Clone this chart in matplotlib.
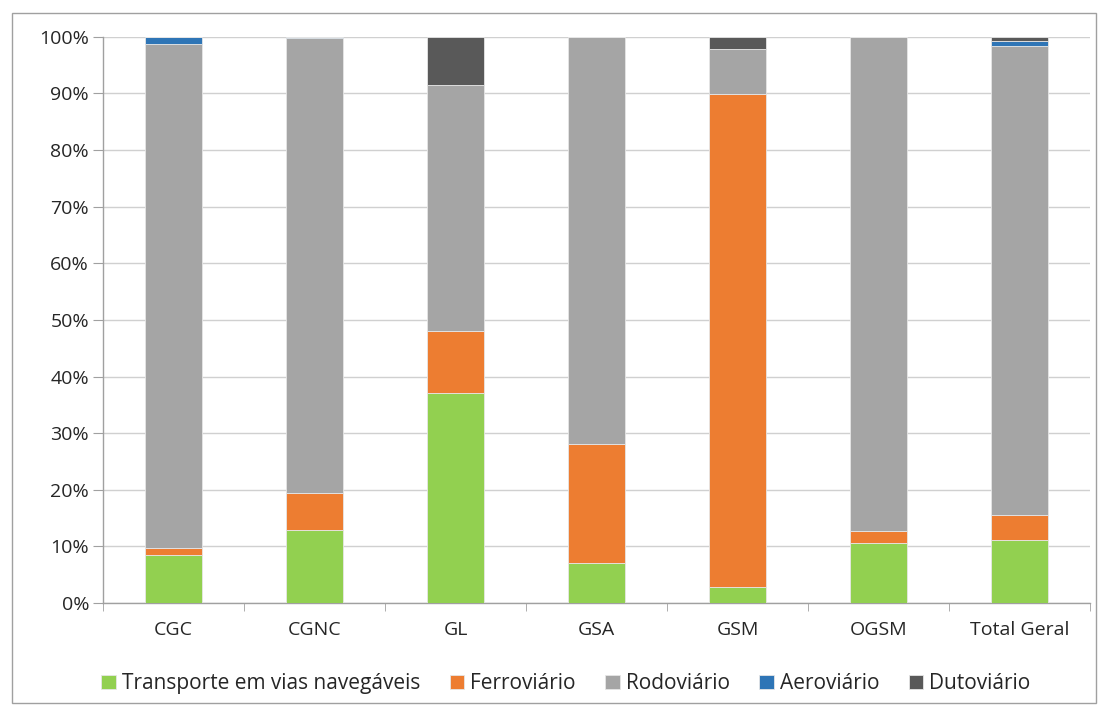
import numpy as np
import matplotlib.pyplot as plt
from matplotlib.patches import Rectangle
from matplotlib.ticker import FixedLocator, PercentFormatter

plt.rcParams['font.family'] = ['Open Sans', 'DejaVu Sans']

regions = ['CGC', 'CGNC', 'GL', 'GSA', 'GSM', 'OGSM', 'Total Geral']
modes = ['Transporte em vias navegáveis', 'Ferroviário', 'Rodoviário',
         'Aeroviário', 'Dutoviário']
colors = ['#92D050', '#ED7D31', '#A5A5A5', '#2E75B6', '#595959']

# share (%) of each mode per region
hidroviario = [8.5, 12.9, 37.1, 7.1, 2.9, 10.6, 11.2]
ferroviario = [1.2, 6.5, 11.0, 21.0, 87.0, 2.1, 4.3]
rodoviario = [89.1, 80.3, 43.3, 71.9, 7.9, 87.3, 82.9]
aeroviario = [1.2, 0.3, 0.0, 0.0, 0.0, 0.0, 0.8]
dutoviario = [0.0, 0.0, 8.6, 0.0, 2.2, 0.0, 0.8]
series = [hidroviario, ferroviario, rodoviario, aeroviario, dutoviario]

fig = plt.figure(figsize=(10.99, 7.07), dpi=100)
ax = fig.add_axes([0.0937, 0.147, 0.8983, 0.801])

x = np.arange(len(regions))
bottom = np.zeros(len(regions))
for vals, name, c in zip(series, modes, colors):
    ax.bar(x, vals, 0.4, bottom=bottom, color=c, label=name,
           edgecolor='#E6E6E6', linewidth=0.6, zorder=3)
    bottom += np.array(vals)

ax.set_xlim(-0.5, len(regions) - 0.5)
ax.set_ylim(0, 100)
ax.yaxis.set_major_locator(FixedLocator(np.arange(0, 101, 10)))
ax.yaxis.set_major_formatter(PercentFormatter(decimals=0))
ax.grid(axis='y', color='#D0D0D0', linewidth=1, zorder=0)

ax.set_xticks(x)
ax.set_xticklabels(regions)
ax.set_xticks(np.arange(-0.5, len(regions)), minor=True)
ax.tick_params(axis='x', which='major', length=0, pad=13, labelsize=14,
               labelcolor='#262626')
ax.tick_params(axis='x', which='minor', length=6, color='#A0A0A0', direction='out')
ax.tick_params(axis='y', length=7, color='#A0A0A0', labelsize=14, pad=3,
               labelcolor='#262626')

for s in ['top', 'right']:
    ax.spines[s].set_visible(False)
for s in ['left', 'bottom']:
    ax.spines[s].set_color('#A0A0A0')
    ax.spines[s].set_linewidth(1)

leg = fig.legend(loc='center', bbox_to_anchor=(0.515, 0.033), ncol=5, frameon=False,
                 fontsize=15, handlelength=0.7, handleheight=0.7, handletextpad=0.3,
                 columnspacing=1.4)
for t in leg.get_texts():
    t.set_color('#262626')

# outer frame around the chart area
fig.patches.append(Rectangle((0.011, 0.005), 0.986, 0.977, transform=fig.transFigure,
                             fill=False, edgecolor='#A0A0A0', linewidth=1))

fig.savefig('out.png', dpi=100)
